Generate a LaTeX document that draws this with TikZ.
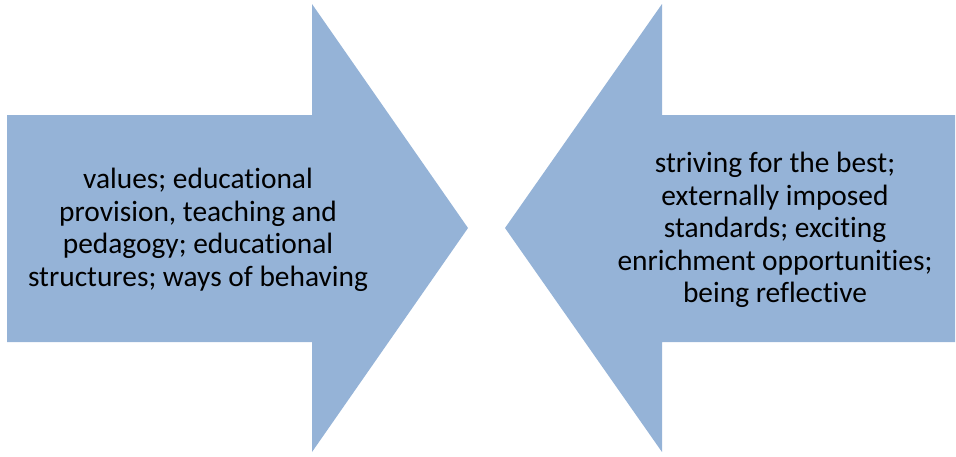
\documentclass[tikz,border=0pt]{standalone}
\usepackage{fontspec}
\setmainfont{Carlito}[RawFeature=-liga]
\usepackage{tikz}
\definecolor{ArrowBlue}{HTML}{95B3D7}

\begin{document}
\begin{tikzpicture}[
x=1pt, y=-1pt,
arrowshape/.style={fill=ArrowBlue, draw=none},
label/.style={align=center, font=\fontsize{29.4}{32.6}\selectfont, inner sep=0pt}
]
\useasboundingbox (0,0) rectangle (956,456);
% left arrow, pointing right
\fill[arrowshape] (7,115) -- (312,115) -- (312,4) -- (468,228) -- (312,452) -- (312,342) -- (7,342) -- cycle;
% right arrow, pointing left
\fill[arrowshape] (955,115) -- (662,115) -- (662,4) -- (505,228) -- (662,452) -- (662,342) -- (955,342) -- cycle;
\node[label] (left) at (198,230) {values; educational\\provision, teaching and\\pedagogy; educational\\structures; ways of behaving};
\node[label] (right) at (775,230) {striving for the best;\\externally imposed\\standards; exciting\\enrichment opportunities;\\being reflective};
\end{tikzpicture}
\end{document}
